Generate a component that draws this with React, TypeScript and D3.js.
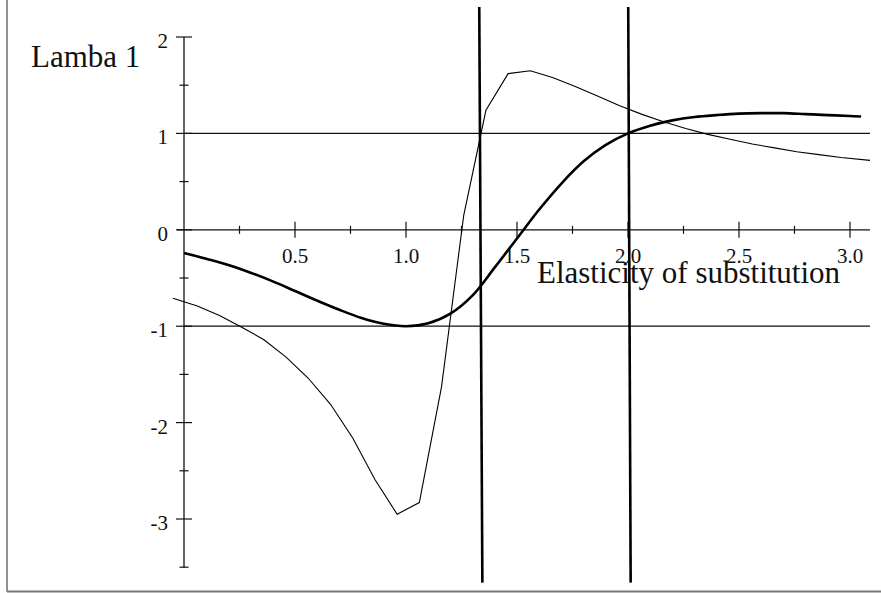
import * as d3 from "d3";

// thick curve (smooth)
const thickX = [0, 0.1, 0.2, 0.3, 0.4, 0.5, 0.6, 0.7, 0.8, 0.9, 1.0, 1.1, 1.2, 1.3, 1.4, 1.5, 1.6, 1.7, 1.8, 1.9, 2.0, 2.1, 2.2, 2.3, 2.4, 2.5, 2.6, 2.7, 2.8, 2.9, 3.0, 3.05];
const thickY = [-0.24, -0.3, -0.365, -0.445, -0.535, -0.635, -0.735, -0.83, -0.915, -0.975, -1.0, -0.97, -0.87, -0.68, -0.39, -0.09, 0.21, 0.48, 0.71, 0.88, 1.0, 1.08, 1.135, 1.17, 1.19, 1.205, 1.21, 1.21, 1.2, 1.19, 1.18, 1.175];

// thin curve (polyline)
const thinX = [-0.05, 0.06, 0.16, 0.26, 0.36, 0.46, 0.56, 0.66, 0.76, 0.86, 0.96, 1.06, 1.16, 1.26, 1.36, 1.46, 1.56, 1.66, 1.76, 1.86, 1.96, 2.06, 2.16, 2.26, 2.36, 2.46, 2.56, 2.66, 2.76, 2.86, 2.96, 3.09];
const thinY = [-0.71, -0.79, -0.89, -1.01, -1.14, -1.32, -1.54, -1.81, -2.16, -2.59, -2.95, -2.83, -1.63, 0.15, 1.24, 1.62, 1.65, 1.58, 1.49, 1.39, 1.29, 1.2, 1.12, 1.05, 0.99, 0.94, 0.89, 0.85, 0.81, 0.78, 0.75, 0.72];

// near-vertical lines: [xTop, yTop, xBottom, yBottom]
const verticals = [
  [1.33, 2.31, 1.344, -3.66],
  [2.001, 2.31, 2.012, -3.66],
];
const horizontals = [1, -1];

const xMajor = [0.5, 1.0, 1.5, 2.0, 2.5, 3.0];
const xMajorLabels = ["0.5", "1.0", "1.5", "2.0", "2.5", "3.0"];
const xMinor = [0.25, 0.75, 1.25, 1.75, 2.25, 2.75];
const yMajor = [2, 1, 0, -1, -2, -3];
const yMajorLabels = ["2", "1", "0", "-1", "-2", "-3"];
const yMinor = [1.5, 0.5, -0.5, -1.5, -2.5, -3.5];

const W = 881;
const H = 593;

export default function App() {
  const x = d3.scaleLinear().domain([0, 3]).range([184, 850]);
  const y = d3.scaleLinear().domain([2, -3]).range([37, 519]);
  const xEnd = 870;

  const thick = d3
    .line<number>()
    .x((_, i) => x(thickX[i]))
    .y((d) => y(d))
    .curve(d3.curveCatmullRom.alpha(0.5));
  const thin = d3
    .line<number>()
    .x((_, i) => x(thinX[i]))
    .y((d) => y(d));

  const font = "'Liberation Serif', 'Times New Roman', serif";

  return (
    <svg width={W} height={H} style={{ position: "absolute", left: 0, top: 0 }} fontFamily={font}>
      <rect width={W} height={H} fill="#fff" />
      {/* frame */}
      <line x1={7} y1={0} x2={7} y2={591.5} stroke="#777" strokeWidth={1.6} />
      <line x1={7} y1={591.5} x2={W} y2={591.5} stroke="#777" strokeWidth={2} />

      {/* horizontal reference lines */}
      {horizontals.map((h) => (
        <line key={h} x1={x(0)} x2={xEnd} y1={y(h)} y2={y(h)} stroke="#111" strokeWidth={1.2} />
      ))}

      {/* x axis */}
      <line x1={177} x2={xEnd} y1={y(0)} y2={y(0)} stroke="#111" strokeWidth={1.3} />
      {xMajor.map((v) => (
        <line key={v} x1={x(v)} x2={x(v)} y1={y(0) - 8} y2={y(0) + 8} stroke="#111" strokeWidth={1.2} />
      ))}
      {xMinor.map((v) => (
        <line key={v} x1={x(v)} x2={x(v)} y1={y(0) - 4} y2={y(0) + 4} stroke="#111" strokeWidth={1.2} />
      ))}

      {/* y axis */}
      <line x1={x(0)} x2={x(0)} y1={y(2)} y2={y(-3.5)} stroke="#111" strokeWidth={1.3} />
      {yMajor.map((v) => (
        <line key={v} x1={x(0) - 8} x2={x(0) + 8} y1={y(v)} y2={y(v)} stroke="#111" strokeWidth={1.2} />
      ))}
      {yMinor.map((v) => (
        <line key={v} x1={x(0) - 4.5} x2={x(0) + 4.5} y1={y(v)} y2={y(v)} stroke="#111" strokeWidth={1.2} />
      ))}

      {/* curves */}
      <path d={thin(thinY) ?? ""} fill="none" stroke="#000" strokeWidth={1.1} />
      <path d={thick(thickY) ?? ""} fill="none" stroke="#000" strokeWidth={2.6} />

      {verticals.map((v, i) => (
        <line key={i} x1={x(v[0])} y1={y(v[1])} x2={x(v[2])} y2={y(v[3])} stroke="#000" strokeWidth={2.6} />
      ))}

      {/* tick labels */}
      {xMajor.map((v, i) => (
        <text key={v} x={x(v)} y={y(0) + 33} fontSize={21} textAnchor="middle" fill="#111">
          {xMajorLabels[i]}
        </text>
      ))}
      {yMajor.map((v, i) => (
        <text key={v} x={168} y={y(v) + 11} fontSize={21} textAnchor="end" fill="#111">
          {yMajorLabels[i]}
        </text>
      ))}

      {/* axis titles */}
      <text x={31} y={67} fontSize={31} fill="#111">Lamba 1</text>
      <text x={537} y={283} fontSize={31} fill="#111">Elasticity of substitution</text>
    </svg>
  );
}
